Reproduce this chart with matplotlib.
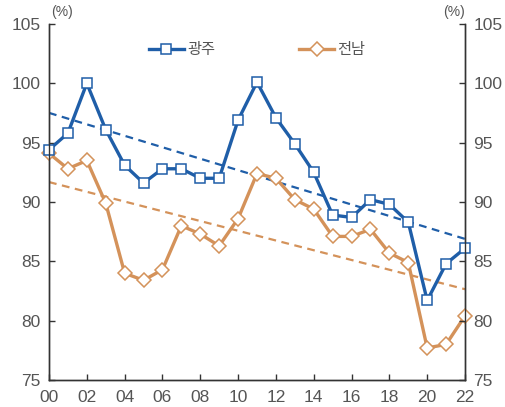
import matplotlib
matplotlib.use("Agg")
import matplotlib.pyplot as plt
import numpy as np

plt.rcParams['font.family'] = ['Liberation Sans', 'Noto Sans CJK KR']

years = list(range(0, 23))
xtick_labels = ['00', '02', '04', '06', '08', '10', '12', '14', '16', '18', '20', '22']

gwangju = [94.4, 95.8, 100.0, 96.1, 93.1, 91.6, 92.8, 92.8, 92.0, 92.0, 96.9, 100.1,
           97.1, 94.9, 92.5, 88.9, 88.7, 90.2, 89.8, 88.3, 81.7, 84.8, 86.1]
jeonnam = [94.1, 92.8, 93.5, 89.9, 84.0, 83.4, 84.3, 88.0, 87.3, 86.3, 88.6, 92.4,
           92.0, 90.2, 89.4, 87.1, 87.1, 87.7, 85.7, 84.9, 77.7, 78.0, 80.4]

blue = '#1f5ea8'
orange = '#d4925a'
grey = '#555555'

fig = plt.figure(figsize=(5.05, 4.07), dpi=100)
ax = fig.add_axes([49 / 505, 27 / 407, 416 / 505, 356 / 407])

x = np.array(years)
ax.plot(x, gwangju, color=blue, lw=2.4, marker='s', ms=7.5, mfc='white',
        mec=blue, mew=1.1, label='광주', zorder=4, clip_on=False)
ax.plot(x, jeonnam, color=orange, lw=2.4, marker='D', ms=7, mfc='white',
        mec=orange, mew=1.1, label='전남', zorder=3, clip_on=False)

# 추세선
for series, c in [(gwangju, blue), (jeonnam, orange)]:
    k, b = np.polyfit(x, series, 1)
    ax.plot(x, k * x + b, color=c, lw=1.6, ls=(0, (3.5, 2.5)), zorder=2)

ax.set_xlim(0, 22)
ax.set_ylim(75, 105)
ax.set_xticks(range(0, 23, 2))
ax.set_xticklabels(xtick_labels)
ax.set_yticks(range(75, 106, 5))

ax2 = ax.twinx()
ax2.set_ylim(75, 105)
ax2.set_yticks(range(75, 106, 5))

for a in (ax, ax2):
    a.spines['top'].set_visible(False)
    for s in a.spines.values():
        s.set_color('#333333')
        s.set_linewidth(1.0)
    a.tick_params(direction='in', length=4, width=1.0, colors='#333333',
                  labelcolor=grey, labelsize=12.5, pad=6)
ax.tick_params(axis='x', pad=7)

fig.text(62 / 505, 1 - 12 / 407, '(%)', fontsize=10, color=grey, ha='center', va='center')
fig.text(454 / 505, 1 - 12 / 407, '(%)', fontsize=10, color=grey, ha='center', va='center')

ax.legend(loc='upper center', bbox_to_anchor=(0.5, 0.985), ncol=2, frameon=False,
          fontsize=11, handlelength=2.3, handletextpad=0.2, columnspacing=5.5,
          labelcolor=grey)

fig.savefig('out.png', dpi=100)
